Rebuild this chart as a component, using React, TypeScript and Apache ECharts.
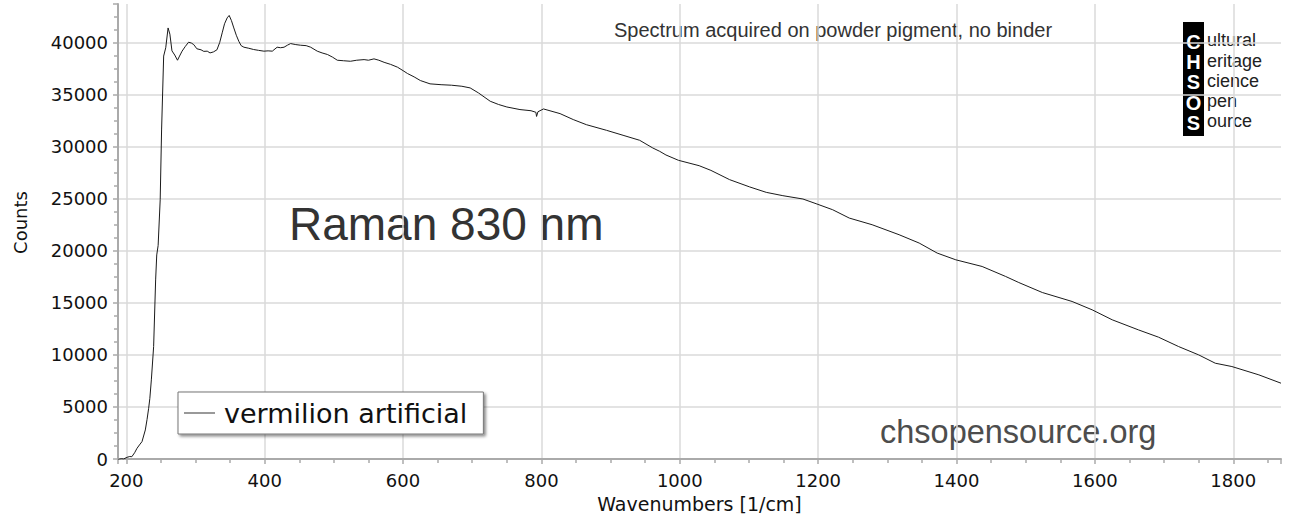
import React, { useEffect, useRef } from "react";
import * as echarts from "echarts";

const seriesName = "vermilion artificial";

const wavenumbers = [
  188, 193, 196, 201, 205, 208, 212, 215.5, 219, 222.7, 227.5, 230, 232.3, 234, 236.2, 239.5, 242.4, 244, 246, 249,
  251, 254, 257, 260.4, 263, 266, 270, 274, 277, 280.6, 285, 290, 294, 297.5, 302, 308, 312, 317, 321, 326,
  331, 335, 338.6, 342, 345.8, 348.7, 352, 355.4, 359, 362.6, 366, 370, 377, 384, 391, 398.9, 405, 411, 418, 423,
  428, 433, 437.5, 445, 452, 460, 466.5, 476, 483, 490.7, 498, 505, 514, 524, 533, 543.7, 550, 558, 565, 572.6,
  582, 592, 600, 606.5, 616, 625, 639, 655, 670, 685, 697, 709, 726, 738, 750, 769, 785, 792, 793, 795,
  803, 827, 846, 865, 894, 918, 942, 961, 971, 980, 998, 1028, 1045, 1072, 1101, 1125, 1149, 1178, 1197, 1221,
  1245, 1278, 1317, 1346, 1372, 1399, 1437, 1471, 1490, 1524, 1567, 1596, 1625, 1663, 1692, 1721, 1750, 1774, 1798, 1837,
  1869,
];

const counts = [
  -50, 30, 0, 160, 240, 220, 600, 1030, 1350, 1670, 2790, 3800, 4870, 5800, 7600, 10800, 17200, 19600, 20500, 24900,
  31600, 38700, 39500, 41400, 40800, 39200, 38800, 38300, 38700, 39170, 39600, 40030, 39950, 39800, 39400, 39300, 39150, 39170, 39000, 39100,
  39300, 40000, 40930, 41800, 42370, 42600, 42100, 41400, 40700, 40120, 39700, 39550, 39450, 39330, 39250, 39170, 39200, 39170, 39550, 39500,
  39550, 39750, 39900, 39800, 39740, 39700, 39550, 39170, 39000, 38850, 38600, 38300, 38250, 38200, 38300, 38360, 38300, 38430, 38300, 38100,
  37900, 37630, 37300, 37020, 36700, 36350, 36030, 35950, 35900, 35800, 35640, 35160, 34360, 34050, 33810, 33560, 33450, 33300, 32900, 33350,
  33620, 33170, 32600, 32110, 31570, 31090, 30610, 29870, 29550, 29200, 28690, 28170, 27720, 26830, 26130, 25610, 25290, 24970, 24520, 23940,
  23140, 22500, 21540, 20740, 19780, 19130, 18490, 17530, 16950, 15990, 15130, 14330, 13370, 12400, 11700, 10800, 10000, 9200, 8880, 8080,
  7280,
];

const xMin = 188;
const xMax = 1869;
const yMax = 43700;
const yInterval = 5000;

const titleText = "Raman 830 nm";
const noteText = "Spectrum acquired on powder pigment, no binder";
const siteText = "chsopensource.org";
const logoLetters = ["C", "H", "S", "O", "S"];
const logoRest = ["ultural", "eritage", "cience", "pen", "ource"];

export default function App() {
  const ref = useRef<HTMLDivElement>(null);

  useEffect(() => {
    if (!ref.current) return;
    const chart = echarts.init(ref.current, null, { renderer: "svg" });

    const data = wavenumbers.map((x, i) => [x, counts[i]]);
    const tickFont = "'DejaVu Sans', Verdana, sans-serif";
    const sansFont = "'Liberation Sans', Arial, sans-serif";
    const rowPitch = 20.2;

    chart.setOption({
      animation: false,
      backgroundColor: "#fff",
      grid: { left: 118, right: 12, top: 4, bottom: 65 },
      legend: {
        left: 178,
        top: 392,
        data: [{ name: seriesName, itemStyle: { color: "#777" } }],
        icon: "rect",
        itemWidth: 31,
        itemHeight: 1.5,
        padding: [7, 16, 7, 6],
        backgroundColor: "#fff",
        borderColor: "#777",
        borderWidth: 1,
        borderRadius: 0,
        shadowColor: "rgba(0,0,0,0.45)",
        shadowBlur: 3,
        shadowOffsetX: 2,
        shadowOffsetY: 2,
        selectedMode: false,
        textStyle: {
          fontFamily: tickFont,
          fontSize: 27,
          color: "#111",
          lineHeight: 28,
          padding: [0, 0, 0, 4],
        },
      },
      xAxis: {
        type: "value",
        min: xMin,
        max: xMax,
        splitNumber: 8,
        name: "Wavenumbers [1/cm]",
        nameLocation: "middle",
        nameGap: 35,
        nameTextStyle: { fontFamily: tickFont, fontSize: 19, color: "#111" },
        axisLine: { show: true, lineStyle: { color: "#aaa", width: 2 } },
        axisTick: { show: true, length: 5, lineStyle: { color: "#aaa", width: 1.5 } },
        minorTick: { show: true, splitNumber: 4, length: 4, lineStyle: { color: "#aaa", width: 1.5 } },
        axisLabel: {
          fontFamily: tickFont,
          fontSize: 18,
          color: "#111",
          margin: 12,
          showMinLabel: false,
          showMaxLabel: false,
          formatter: (v: number) => String(v),
        },
        splitLine: {
          show: true,
          showMinLine: false,
          showMaxLine: false,
          lineStyle: { color: "#dadada", width: 1.5 },
        },
      },
      yAxis: {
        type: "value",
        min: 0,
        max: yMax,
        interval: yInterval,
        name: "Counts",
        nameLocation: "middle",
        nameGap: 89,
        nameRotate: 90,
        nameTextStyle: { fontFamily: tickFont, fontSize: 18, color: "#111", padding: [0, 0, 0, 18] },
        axisLine: { show: true, lineStyle: { color: "#aaa", width: 2 } },
        axisTick: { show: true, length: 5, lineStyle: { color: "#aaa", width: 1.5 } },
        minorTick: { show: true, splitNumber: 4, length: 4, lineStyle: { color: "#aaa", width: 1.5 } },
        axisLabel: {
          fontFamily: tickFont,
          fontSize: 18,
          color: "#111",
          margin: 10,
          showMaxLabel: false,
          formatter: (v: number) => String(v),
        },
        splitLine: {
          show: true,
          showMinLine: false,
          showMaxLine: false,
          lineStyle: { color: "#dadada", width: 1.5 },
        },
      },
      series: [
        {
          name: seriesName,
          type: "line",
          data,
          symbol: "none",
          showSymbol: false,
          lineStyle: { color: "#1a1a1a", width: 1 },
          itemStyle: { color: "#1a1a1a" },
          clip: true,
        },
      ],
      graphic: [
        {
          type: "text",
          x: 289,
          y: 224,
          style: {
            text: titleText,
            fill: "#333",
            font: `46px ${sansFont}`,
            align: "left",
            verticalAlign: "middle",
          },
          silent: true,
        },
        {
          type: "text",
          x: 614,
          y: 30,
          style: {
            text: noteText,
            fill: "#333",
            font: `20px ${sansFont}`,
            align: "left",
            verticalAlign: "middle",
          },
          silent: true,
        },
        {
          type: "text",
          x: 880,
          y: 432,
          style: {
            text: siteText,
            fill: "#4d4d4d",
            font: `32.5px ${sansFont}`,
            align: "left",
            verticalAlign: "middle",
          },
          silent: true,
        },
        {
          type: "rect",
          shape: { x: 1183, y: 22, width: 21, height: 114 },
          style: { fill: "#000" },
          silent: true,
        },
        {
          type: "text",
          x: 1193.5,
          y: 42 - rowPitch / 2,
          style: {
            text: logoLetters.join("\n"),
            fill: "#fff",
            font: `bold 20px ${sansFont}`,
            lineHeight: rowPitch,
            align: "center",
            verticalAlign: "top",
          },
          silent: true,
        },
        {
          type: "text",
          x: 1207,
          y: 40.5 - rowPitch / 2,
          style: {
            text: logoRest.join("\n"),
            fill: "#222",
            font: `18px ${sansFont}`,
            lineHeight: rowPitch,
            align: "left",
            verticalAlign: "top",
          },
          silent: true,
        },
      ],
    });

    return () => {
      chart.dispose();
    };
  }, []);

  return (
    <div
      ref={ref}
      style={{ position: "fixed", left: 0, top: 0, width: 1293, height: 524, background: "#fff" }}
    />
  );
}
